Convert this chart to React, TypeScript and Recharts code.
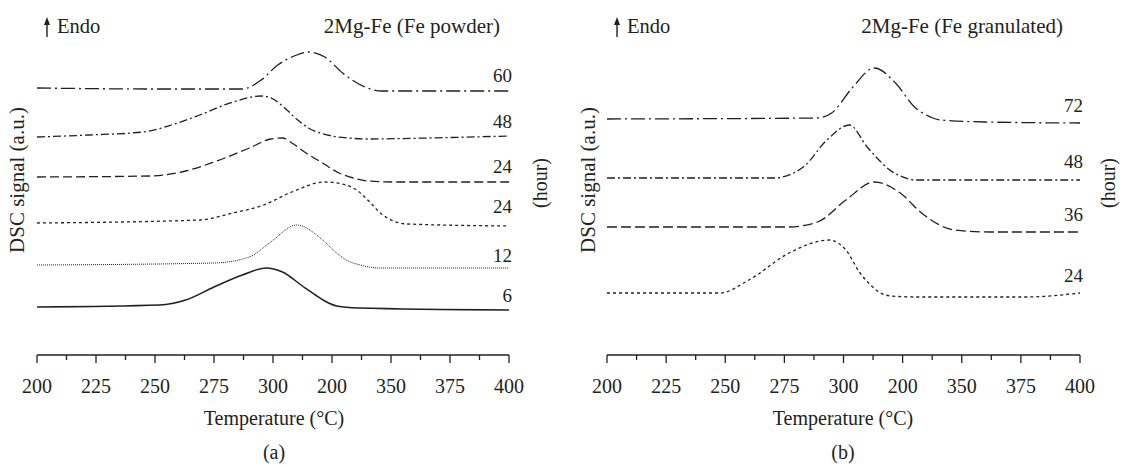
import React from 'react';
import { LineChart, Line, XAxis, YAxis } from 'recharts';

const INK = '#231f20';
const FONT = '"Liberation Serif", "Times New Roman", serif';

// x ticks every 12.5 °C, text only on the 25 °C ones
const tempTicks = [200, 212.5, 225, 237.5, 250, 262.5, 275, 287.5, 300, 312.5, 325, 337.5, 350, 362.5, 375, 387.5, 400];
// the printed figure really says 200 where 325 should be
const tickLabels = ['200', '225', '250', '275', '300', '200', '350', '375', '400'];

// (a) Fe powder, [temperature, signal a.u.]
const powder60 = [[200, 267], [250, 266], [287, 266], [295, 275], [302, 290], [309, 299], [315, 303], [322, 298], [329.5, 282], [339, 268], [346, 264], [370, 264], [400, 264]];
const powder48 = [[200, 218], [222, 220], [245, 223], [257, 230], [269, 240], [283, 253], [295, 259], [300, 256], [305, 247], [310, 236], [315, 227], [320, 222], [325, 219], [332, 217], [340, 216], [366, 217], [400, 219]];
const powder24a = [[200, 178], [248, 179], [263, 184], [275, 193], [290, 207], [299, 216], [304, 217], [308, 212], [314, 202], [321, 192], [328, 182], [334, 177], [340, 174], [351, 173], [400, 173]];
const powder24b = [[200, 132], [269, 135], [283, 142], [296, 150], [308, 163], [322, 173], [331, 170], [336, 164], [341, 153], [346, 141], [351, 134], [357, 131], [400, 129]];
const powder12 = [[200, 90], [275, 92], [290, 98], [299, 113], [310, 130], [321, 115], [326, 104], [331, 95], [337, 90], [345, 87], [400, 87]];
const powder6 = [[200, 48], [252, 50], [263, 55], [275, 68], [287, 80], [297, 87], [304, 83], [313, 68], [318, 60], [322, 54], [327, 49], [336, 47], [400, 45]];

// (b) Fe granulated
const gran72 = [[200, 236], [289, 237], [295, 242], [304, 268], [313, 287], [322, 272], [330, 248], [335, 240], [341, 235], [360, 233], [400, 232]];
const gran48 = [[200, 177], [270.5, 177], [283, 188], [293, 215], [302.5, 230], [310, 208], [315, 195], [319, 186], [324, 179], [331, 175], [400, 175]];
const gran36 = [[200, 128], [276.6, 128], [289, 133], [301, 155], [313, 173], [324, 162], [333, 142], [347, 125], [362, 123], [400, 123]];
const gran24 = [[200, 62], [247.7, 62], [260, 75], [277, 102], [294, 115], [301, 105], [307, 82], [311, 71], [315, 63], [320, 59], [331, 58], [377, 58], [400, 62]];

const powderSeries = [
  { hours: '60', data: powder60, dash: '14 4 2 4', width: 1.3, labelDy: -9 },
  { hours: '48', data: powder48, dash: '8 3 2 3', width: 1.3, labelDy: -8 },
  { hours: '24', data: powder24a, dash: '9 4', width: 1.3, labelDy: -9 },
  { hours: '24', data: powder24b, dash: '3 3', width: 1.3, labelDy: -13 },
  { hours: '12', data: powder12, dash: '1 1', width: 1, labelDy: -6 },
  { hours: '6', data: powder6, dash: undefined, width: 1.5, labelDy: -8 },
];

const granSeries = [
  { hours: '72', data: gran72, dash: '14 4 2 4', width: 1.3, labelDy: -11 },
  { hours: '48', data: gran48, dash: '8 3 2 3', width: 1.3, labelDy: -12 },
  { hours: '36', data: gran36, dash: '10 4', width: 1.3, labelDy: -11 },
  { hours: '24', data: gran24, dash: '3 3', width: 1.3, labelDy: -11 },
];

const toRows = (arr: number[][]) => arr.map(([t, v]) => ({ t, v }));

const TempTick = (props: any) => {
  const { x, y, payload } = props;
  const v = payload.value;
  const major = (v - 200) % 25 === 0;
  return (
    <g>
      <line x1={x} y1={y} x2={x} y2={y + (major ? 8 : 5)} stroke={INK} strokeWidth={1.3} />
      {major && (
        <text x={x} y={y + 38} textAnchor="middle" fontSize={20} fill={INK} fontFamily={FONT}>
          {tickLabels[(v - 200) / 25]}
        </text>
      )}
    </g>
  );
};

// hour label sits just above the end of each curve
const endLabel = (s: any) => (p: any) =>
  p.index === s.data.length - 1 ? (
    <text key={`lbl-${p.index}`} x={p.cx + 3} y={p.cy + s.labelDy} textAnchor="end" fontSize={19} fill={INK} fontFamily={FONT}>
      {s.hours}
    </text>
  ) : (
    <g key={`lbl-${p.index}`} />
  );

interface PanelProps {
  left: number;
  margin: { top: number; right: number; bottom: number; left: number };
  series: any[];
  title: string;
  letter: string;
  titleX: number;
  yLabelX: number;
  hourX: number;
  centerX: number;
}

const Panel = ({ left, margin, series, title, letter, titleX, yLabelX, hourX, centerX }: PanelProps) => {
  const ax = margin.left;
  return (
    <div style={{ position: 'absolute', left, top: 0, width: 561, height: 466 }}>
      <LineChart width={561} height={466} margin={margin}>
        <XAxis
          type="number"
          dataKey="t"
          domain={[200, 400]}
          ticks={tempTicks}
          interval={0}
          tick={<TempTick />}
          tickLine={false}
          tickSize={0}
          tickMargin={0}
          height={30}
          axisLine={{ stroke: INK, strokeWidth: 1.3 }}
        />
        <YAxis type="number" domain={[0, 347]} tick={false} tickLine={false} width={0} axisLine={{ stroke: INK, strokeWidth: 1.3 }} />
        {series.map((s, i) => (
          <Line
            key={i}
            data={toRows(s.data)}
            dataKey="v"
            type="monotone"
            stroke={INK}
            strokeWidth={s.width}
            strokeDasharray={s.dash}
            dot={endLabel(s)}
            activeDot={false}
            isAnimationActive={false}
          />
        ))}
      </LineChart>
      <svg width={561} height={466} style={{ position: 'absolute', left: 0, top: 0, pointerEvents: 'none' }} fontFamily={FONT} fill={INK}>
        {/* endotherm arrow */}
        <line x1={ax + 10} y1={37} x2={ax + 10} y2={22} stroke={INK} strokeWidth={1.4} />
        <path d={`M${ax + 7},25 L${ax + 10},17 L${ax + 13},25 Z`} fill={INK} />
        <text x={ax + 20} y={33} fontSize={20.5}>Endo</text>
        <text x={titleX} y={33} fontSize={21} textAnchor="end">{title}</text>
        <text transform={`translate(${yLabelX},180) rotate(-90)`} fontSize={21} textAnchor="middle" dominantBaseline="central">
          DSC signal (a.u.)
        </text>
        <text transform={`translate(${hourX},183) rotate(-90)`} fontSize={20} textAnchor="middle" dominantBaseline="central">
          (hour)
        </text>
        <text x={centerX} y={425} fontSize={20} textAnchor="middle">Temperature (°C)</text>
        <text x={centerX} y={459} fontSize={20} textAnchor="middle">{letter}</text>
      </svg>
    </div>
  );
};

export default function App() {
  return (
    <div style={{ position: 'absolute', left: 0, top: 0, width: 1122, height: 466, background: '#fff' }}>
      <Panel
        left={0}
        margin={{ top: 8, right: 52, bottom: 81, left: 37 }}
        series={powderSeries}
        title="2Mg-Fe (Fe powder)"
        letter="(a)"
        titleX={500}
        yLabelX={17}
        hourX={540}
        centerX={274}
      />
      <Panel
        left={561}
        margin={{ top: 8, right: 42, bottom: 81, left: 46 }}
        series={granSeries}
        title="2Mg-Fe (Fe granulated)"
        letter="(b)"
        titleX={502}
        yLabelX={27}
        hourX={547}
        centerX={282}
      />
    </div>
  );
}
